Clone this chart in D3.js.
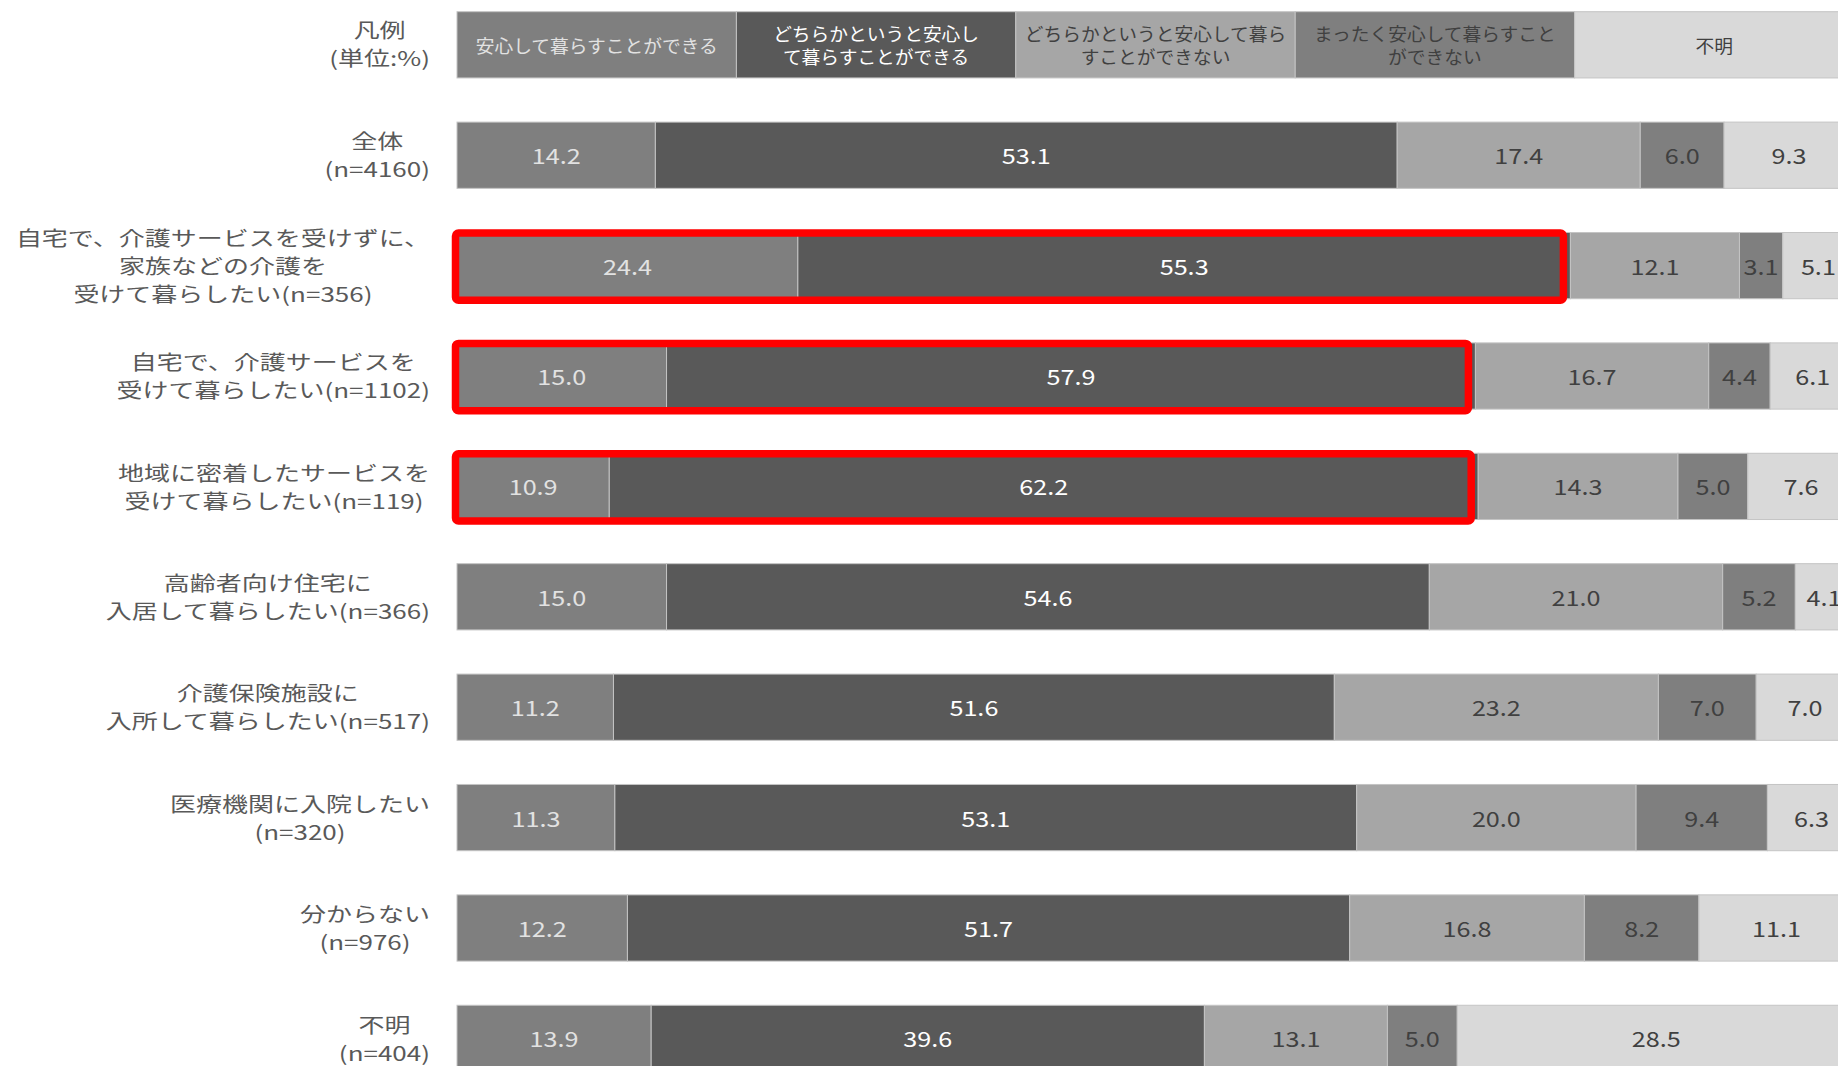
<!DOCTYPE html>
<html>
<head>
<meta charset="utf-8">
<script src="https://cdn.jsdelivr.net/npm/d3@7"></script>
<style>
  html, body { margin: 0; padding: 0; background: #ffffff; overflow: hidden; }
  svg { display: block; }
  text { font-family: "Noto Sans CJK JP", "Noto Sans", sans-serif; }
</style>
</head>
<body>
<svg id="chart" width="1838" height="1066"></svg>
<script>
// ---------- data ----------
const seriesNames = [
  "安心して暮らすことができる",
  "どちらかというと安心して暮らすことができる",
  "どちらかというと安心して暮らすことができない",
  "まったく安心して暮らすことができない",
  "不明"
];
const legendLines = [
  ["安心して暮らすことができる"],
  ["どちらかというと安心し", "て暮らすことができる"],
  ["どちらかというと安心して暮ら", "すことができない"],
  ["まったく安心して暮らすこと", "ができない"],
  ["不明"]
];
const legendShares = [20, 20, 20, 20, 20];
const legendTitle = ["凡例", "(単位:%)"];

const categories = [
  "全体",
  "自宅で、介護サービスを受けずに、家族などの介護を受けて暮らしたい",
  "自宅で、介護サービスを受けて暮らしたい",
  "地域に密着したサービスを受けて暮らしたい",
  "高齢者向け住宅に入居して暮らしたい",
  "介護保険施設に入所して暮らしたい",
  "医療機関に入院したい",
  "分からない",
  "不明"
];
const categoryLines = [
  ["全体", "(n=4160)"],
  ["自宅で、介護サービスを受けずに、", "家族などの介護を", "受けて暮らしたい(n=356)"],
  ["自宅で、介護サービスを", "受けて暮らしたい(n=1102)"],
  ["地域に密着したサービスを", "受けて暮らしたい(n=119)"],
  ["高齢者向け住宅に", "入居して暮らしたい(n=366)"],
  ["介護保険施設に", "入所して暮らしたい(n=517)"],
  ["医療機関に入院したい", "(n=320)"],
  ["分からない", "(n=976)"],
  ["不明", "(n=404)"]
];
const s1 = [14.2, 24.4, 15.0, 10.9, 15.0, 11.2, 11.3, 12.2, 13.9];
const s2 = [53.1, 55.3, 57.9, 62.2, 54.6, 51.6, 53.1, 51.7, 39.6];
const s3 = [17.4, 12.1, 16.7, 14.3, 21.0, 23.2, 20.0, 16.8, 13.1];
const s4 = [6.0, 3.1, 4.4, 5.0, 5.2, 7.0, 9.4, 8.2, 5.0];
const s5 = [9.3, 5.1, 6.1, 7.6, 4.1, 7.0, 6.3, 11.1, 28.5];
const highlighted = [
  "自宅で、介護サービスを受けずに、家族などの介護を受けて暮らしたい",
  "自宅で、介護サービスを受けて暮らしたい",
  "地域に密着したサービスを受けて暮らしたい"
];

// ---------- styles ----------
const fills = ["#7f7f7f", "#595959", "#a6a6a6", "#7f7f7f", "#d9d9d9"];
const textFills = ["#e2e2e2", "#ffffff", "#404040", "#404040", "#404040"];
const labelColor = "#595959";

// ---------- layout ----------
const svg = d3.select("#chart");
const rowKeys = ["__legend__"].concat(categories);
const y = d3.scaleBand().domain(rowKeys).range([11.7, 1071.5]).paddingInner(0.4).paddingOuter(0);
const x = d3.scaleLinear().domain([0, 100]).range([457, 1854]);

const values = [s1, s2, s3, s4, s5];
const rows = categories.map((c, i) => {
  let acc = 0;
  const segs = values.map((arr, k) => {
    const seg = { cat: c, k, v: arr[i], x0: acc, x1: acc + arr[i] };
    acc += arr[i];
    return seg;
  });
  return { cat: c, i, segs };
});

// helper: horizontally stretched text
function stretchedText(g, cx, cy, str, size, sx, fill, anchor) {
  return g.append("text")
    .attr("transform", `translate(${cx},${cy}) scale(${sx},1)`)
    .attr("text-anchor", anchor || "middle")
    .attr("dominant-baseline", "central")
    .attr("font-size", size)
    .attr("fill", fill)
    .text(str);
}

// ---------- legend row ----------
let acc = 0;
const legendSegs = legendShares.map((v, k) => { const s = { k, x0: acc, x1: acc + v }; acc += v; return s; });
const lg = svg.append("g").attr("class", "legend");
lg.selectAll("rect").data(legendSegs).join("rect")
  .attr("x", d => x(d.x0))
  .attr("y", y("__legend__"))
  .attr("width", d => x(d.x1) - x(d.x0))
  .attr("height", y.bandwidth())
  .attr("fill", d => fills[d.k])
  .attr("stroke", "#c4c4c4")
  .attr("stroke-width", 1);
legendSegs.forEach(d => {
  const lines = legendLines[d.k];
  const cx = (x(d.x0) + x(d.x1)) / 2;
  const cy = y("__legend__") + y.bandwidth() / 2;
  const pitch = 23;
  lines.forEach((ln, j) => {
    stretchedText(lg, cx, cy + (j - (lines.length - 1) / 2) * pitch, ln, 18, 1.04, textFills[d.k]);
  });
});

// ---------- bars ----------
const bars = svg.append("g").attr("class", "bars");
const rowG = bars.selectAll("g.row").data(rows).join("g").attr("class", "row");
rowG.selectAll("rect").data(d => d.segs).join("rect")
  .attr("x", d => x(d.x0))
  .attr("y", d => y(d.cat))
  .attr("width", d => x(d.x1) - x(d.x0))
  .attr("height", y.bandwidth())
  .attr("fill", d => fills[d.k])
  .attr("stroke", "#c4c4c4")
  .attr("stroke-width", 1);

const valG = svg.append("g").attr("class", "values");
rows.forEach(r => {
  r.segs.forEach(s => {
    const cx = (x(s.x0) + x(s.x1)) / 2;
    const cy = y(s.cat) + y.bandwidth() / 2;
    stretchedText(valG, cx, cy, s.v.toFixed(1), 21, 1.2, textFills[s.k]);
  });
});

// ---------- highlight boxes ----------
const hl = svg.append("g").attr("class", "highlight");
rows.filter(r => highlighted.includes(r.cat)).forEach(r => {
  const end = r.segs[1].x1;
  hl.append("rect")
    .attr("x", x(0) - 1.5)
    .attr("y", y(r.cat) + 0.5)
    .attr("width", x(end) - 7 - (x(0) - 1.5))
    .attr("height", y.bandwidth() + 1)
    .attr("rx", 3)
    .attr("fill", "none")
    .attr("stroke", "#ff0000")
    .attr("stroke-width", 7.5);
});

// ---------- left labels ----------
const labelRight = 430;
const lab = svg.append("g").attr("class", "labels");
function drawLabel(lines, key, size, sx, pitch, dy) {
  const cy = y(key) + y.bandwidth() / 2 + dy;
  const tmp = lab.append("text").attr("font-size", size);
  let maxW = 0;
  lines.forEach(ln => { tmp.text(ln); maxW = Math.max(maxW, tmp.node().getComputedTextLength() * sx); });
  tmp.remove();
  const cx = labelRight - maxW / 2;
  lines.forEach((ln, j) => {
    stretchedText(lab, cx, cy + (j - (lines.length - 1) / 2) * pitch, ln, size, sx, labelColor);
  });
}
drawLabel(legendTitle, "__legend__", 20, 1.3, 28, -1);
categories.forEach((c, i) => drawLabel(categoryLines[i], c, 20, 1.3, 28, -0.5));
</script>
</body>
</html>
